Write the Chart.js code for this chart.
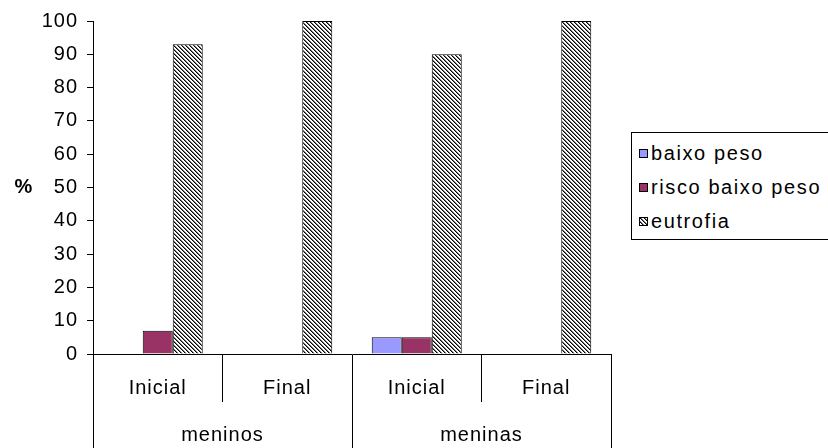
<!DOCTYPE html>
<html>
<head>
<meta charset="utf-8">
<script src="https://cdn.jsdelivr.net/npm/chart.js@4.4.0/dist/chart.umd.min.js"></script>
<style>
html, body { margin: 0; padding: 0; background: #fff; overflow: hidden; }
#wrap { position: relative; width: 828px; height: 448px; }
#legend {
	position: absolute; left: 631px; top: 132px; width: 220px; height: 106px;
	border: 1px solid #000; background: #fff;
	font-family: 'Liberation Sans', Arial, sans-serif; font-size: 20px; letter-spacing: 1.6px; color: #000;
}
.item { position: absolute; left: 7px; height: 24px; line-height: 24px; white-space: nowrap; }
.swatch { display: inline-block; width: 7px; height: 7px; border: 1px solid #000; margin-right: 3px; vertical-align: middle; position: relative; top: -1px; }
</style>
</head>
<body>
<div id="wrap">
	<canvas id="chart" width="828" height="448"></canvas>
	<div id="legend"></div>
</div>
<script>
const categories = ['Inicial', 'Final', 'Inicial', 'Final'];
const groups = ['meninos', 'meninas'];
const seriesNames = ['baixo peso', 'risco baixo peso', 'eutrofia'];
const baixoPeso = [null, null, 5, null];
const riscoBaixoPeso = [7, null, 5, null];
const eutrofia = [93, 100, 90, 100];

// hatch tile for "eutrofia" (diagonal lines like the old excel fill)
const makeHatch = () => {
	let tile = document.createElement('canvas');
	tile.width = 4;
	tile.height = 4;
	let t = tile.getContext('2d');
	t.fillStyle = '#fff';
	t.fillRect(0, 0, 4, 4);
	for (let i = 0; i < 4; i++) {
		t.fillStyle = '#000';
		t.fillRect(i, i, 1, 1);
		t.fillStyle = '#777';
		t.fillRect((i + 1) % 4, i, 1, 1);
	}
	return tile;
};
const hatchTile = makeHatch();
const hatch = document.getElementById('chart').getContext('2d').createPattern(hatchTile, 'repeat');

Chart.defaults.font.family = "'Liberation Sans', Arial, sans-serif";
Chart.defaults.font.size = 20;
Chart.defaults.color = '#000';

const percentTitle = {
	id: 'percentTitle',
	beforeDraw: (chart) => {
		chart.ctx.letterSpacing = '1px';
	},
	afterDraw: (chart) => {
		const ctx = chart.ctx;
		ctx.save();
		ctx.font = "bold 20px 'Liberation Sans', Arial, sans-serif";
		ctx.fillStyle = '#000';
		ctx.textAlign = 'center';
		ctx.textBaseline = 'middle';
		ctx.fillText('%', 24, 187);
		ctx.restore();
	}
};

const chart = new Chart(document.getElementById('chart'), {
	type: 'bar',
	data: {
		labels: categories,
		datasets: [
			{ label: seriesNames[0], data: baixoPeso, backgroundColor: '#9999FF', borderColor: '#000', borderWidth: 1 },
			{ label: seriesNames[1], data: riscoBaixoPeso, backgroundColor: '#993366', borderColor: '#000', borderWidth: 1 },
			{ label: seriesNames[2], data: eutrofia, backgroundColor: hatch, borderColor: '#000', borderWidth: 1 }
		]
	},
	options: {
		responsive: false,
		animation: false,
		categoryPercentage: 0.695,
		barPercentage: 1,
		layout: { padding: { top: 21, right: 217, left: 0, bottom: 0 } },
		plugins: { legend: { display: false }, tooltip: { enabled: false } },
		scales: {
			y: {
				min: 0,
				max: 100,
				ticks: { stepSize: 10, padding: 9 },
				grid: { drawOnChartArea: false, tickLength: 6, color: '#000' },
				border: { color: '#000' },
				afterFit: (s) => { s.width = 93; }
			},
			x: {
				weight: 0,
				offset: true,
				ticks: { padding: -26, maxRotation: 0, autoSkip: false },
				grid: { offset: true, drawOnChartArea: false, tickLength: 48, color: '#000' },
				border: { color: '#000' },
				afterFit: (s) => { s.height = 48; }
			},
			x2: {
				type: 'category',
				position: 'bottom',
				weight: 1,
				labels: groups,
				offset: true,
				ticks: { padding: -25, maxRotation: 0, autoSkip: false },
				grid: { offset: true, drawOnChartArea: false, tickLength: 46, color: '#000' },
				border: { display: false },
				afterFit: (s) => { s.height = 46; }
			}
		}
	},
	plugins: [percentTitle]
});

// legend built from the datasets
const legend = document.getElementById('legend');
chart.data.datasets.forEach((ds, i) => {
	let item = document.createElement('div');
	item.className = 'item';
	item.style.top = (8 + i * 34) + 'px';
	let sw = document.createElement('span');
	sw.className = 'swatch';
	if (typeof ds.backgroundColor === 'string') {
		sw.style.background = ds.backgroundColor;
	} else {
		sw.style.backgroundImage = `url(${hatchTile.toDataURL()})`;
	}
	item.append(sw);
	item.append(document.createTextNode(ds.label));
	legend.append(item);
});
</script>
</body>
</html>
